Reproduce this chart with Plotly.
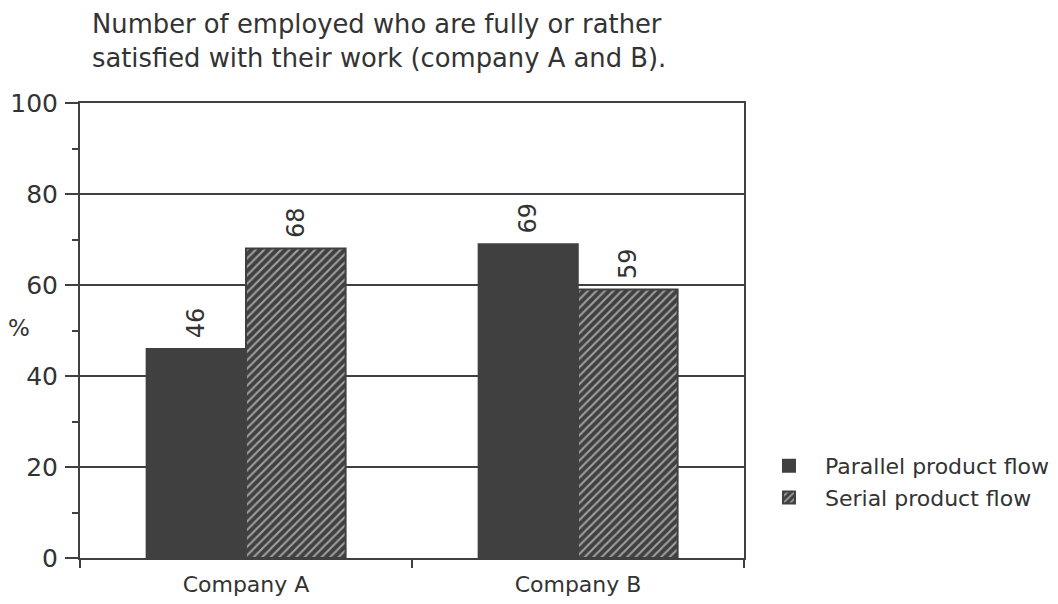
import plotly.graph_objects as go

categories = ["Company A", "Company B"]
parallel = [46, 69]
serial = [68, 59]
series_names = ["Parallel product flow", "Serial product flow"]
title_lines = ["Number of employed who are fully or rather",
               "satisfied with their work (company A and B)."]

DARK = "#404040"
TXT = "#333333"
FONT = "DejaVu Sans"

fig = go.Figure()
fig.add_trace(go.Bar(
    x=categories, y=parallel, name=series_names[0],
    marker=dict(color=DARK, line=dict(color=DARK, width=1.5)),
))
fig.add_trace(go.Bar(
    x=categories, y=serial, name=series_names[1],
    marker=dict(color=DARK, line=dict(color=DARK, width=2),
                pattern=dict(shape="/", fgcolor="white", bgcolor=DARK,
                             size=6, solidity=0.35)),
))

# value labels, rotated, with white background to break gridlines
for vals, shift in [(parallel, -50), (serial, 50)]:
    for c, v in zip(categories, vals):
        fig.add_annotation(x=c, y=v, text=str(v), textangle=-90,
                           xshift=shift, yshift=8, yanchor="bottom",
                           showarrow=False, bgcolor="white",
                           font=dict(family=FONT, size=24, color=TXT))

fig.add_annotation(x=0, xref="paper", xanchor="center", xshift=-61,
                   y=0.505, yref="paper", text="%", showarrow=False,
                   font=dict(family=FONT, size=23, color=TXT))

fig.add_annotation(x=0.0150, xref="paper", xanchor="left",
                   y=1.212, yref="paper", yanchor="top", align="left",
                   text="<br>".join(title_lines), showarrow=False,
                   font=dict(family=FONT, size=25.8, color=TXT))

fig.update_layout(
    width=1058, height=604,
    margin=dict(l=72, r=321, t=95, b=54),
    paper_bgcolor="white", plot_bgcolor="white",
    barmode="group", bargap=0.4, bargroupgap=0,
    font=dict(family=FONT, size=22, color=TXT),
    legend=dict(x=1.012, xanchor="left", y=0.167, yanchor="middle",
                font=dict(family=FONT, size=22, color=TXT),
                itemwidth=62, itemsizing="constant", tracegroupgap=0),
    showlegend=True,
)
fig.update_yaxes(range=[0, 100], tickvals=[0, 20, 40, 60, 80, 100],
                 automargin=False,
                 ticks="outside", ticklen=13, tickwidth=2, tickcolor=DARK,
                 ticklabelstandoff=2,
                 showline=True, linecolor=DARK, linewidth=2, mirror=True,
                 showgrid=True, gridcolor=DARK, gridwidth=1.5,
                 zeroline=False,
                 minor=dict(tickvals=[10, 30, 50, 70, 90], ticks="outside",
                            ticklen=6, tickwidth=2, tickcolor=DARK,
                            showgrid=False),
                 tickfont=dict(family=FONT, size=25, color=TXT))
fig.update_xaxes(ticks="outside", tickson="boundaries", ticklen=8, tickwidth=2,
                 automargin=False,
                 tickcolor=DARK, showline=True, linecolor=DARK, linewidth=2,
                 mirror=True, showgrid=False, ticklabelstandoff=6,
                 tickfont=dict(family=FONT, size=22, color=TXT))

fig.write_html("out.html")
